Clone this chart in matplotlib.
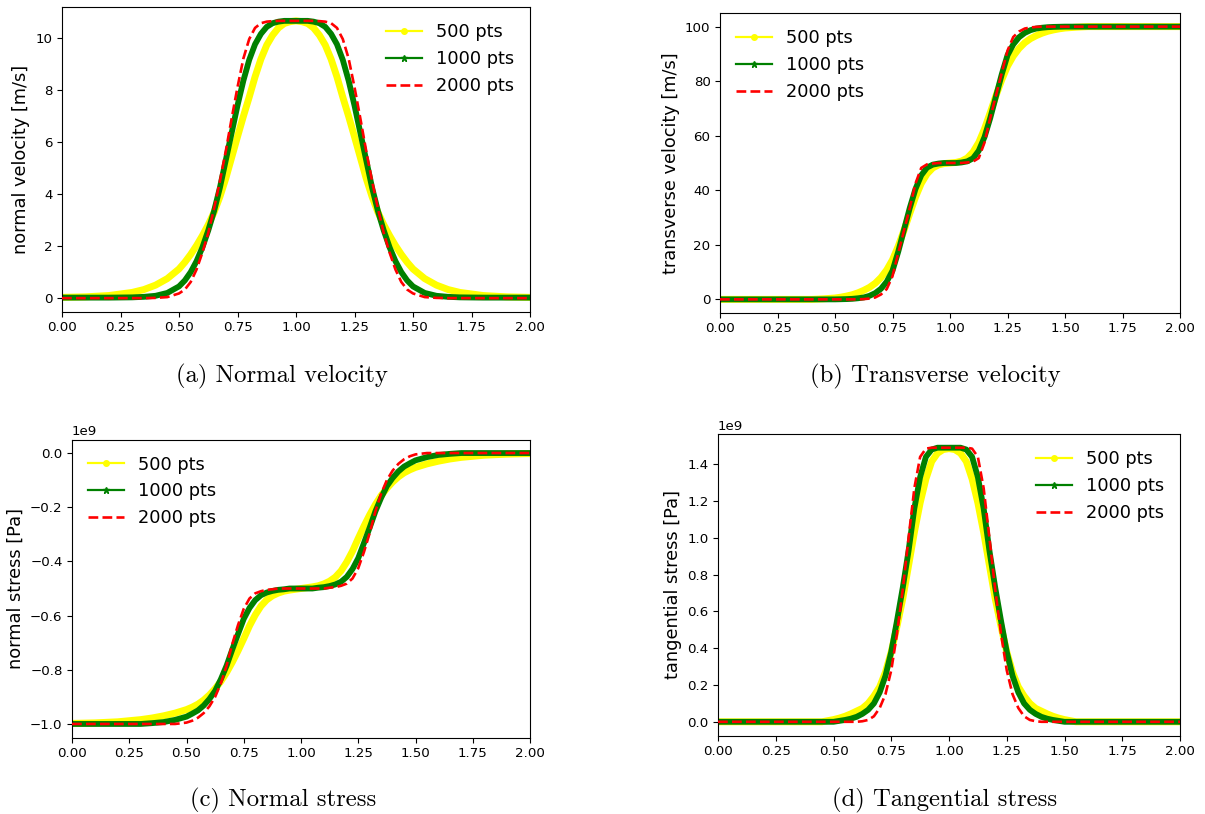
import numpy as np
import matplotlib
matplotlib.use("Agg")
import matplotlib.pyplot as plt
from matplotlib.lines import Line2D

# sample positions along the domain
x = [0.0, 0.1, 0.2, 0.3, 0.35, 0.4, 0.45, 0.5, 0.525, 0.55, 0.575, 0.6, 0.625,
     0.65, 0.675, 0.7, 0.725, 0.75, 0.775, 0.8, 0.825, 0.85, 0.875, 0.9, 0.925,
     0.95, 0.975, 1.0,
     1.025, 1.05, 1.075, 1.1, 1.125, 1.15, 1.175, 1.2, 1.225, 1.25, 1.275, 1.3,
     1.325, 1.35, 1.375, 1.4, 1.425, 1.45, 1.475, 1.5, 1.55, 1.6, 1.65, 1.7,
     1.8, 1.9, 2.0]

# (a) normal velocity [m/s]
vn_500 = [0.03, 0.05, 0.1, 0.22, 0.33, 0.5, 0.75, 1.12, 1.38, 1.68, 2.02, 2.4,
          2.82, 3.3, 3.9, 4.6, 5.4, 6.2, 6.98, 7.72, 8.5, 9.18, 9.72, 10.1,
          10.38, 10.55, 10.62, 10.65,
          10.62, 10.55, 10.38, 10.1, 9.72, 9.18, 8.5, 7.72, 6.98, 6.2, 5.4, 4.6,
          3.9, 3.3, 2.82, 2.4, 2.02, 1.68, 1.38, 1.12, 0.75, 0.5, 0.33, 0.22,
          0.1, 0.05, 0.03]
vn_1000 = [0.02, 0.02, 0.02, 0.03, 0.05, 0.09, 0.2, 0.45, 0.68, 1.0, 1.42, 1.95,
           2.6, 3.35, 4.25, 5.3, 6.35, 7.4, 8.35, 9.15, 9.75, 10.15, 10.42,
           10.56, 10.62, 10.65, 10.65, 10.65,
           10.65, 10.65, 10.62, 10.56, 10.42, 10.15, 9.75, 9.15, 8.35, 7.4,
           6.35, 5.3, 4.25, 3.35, 2.6, 1.95, 1.42, 1.0, 0.68, 0.45, 0.2, 0.09,
           0.05, 0.03, 0.02, 0.02, 0.02]
vn_2000 = [0.0, 0.0, 0.0, 0.0, 0.0, 0.01, 0.04, 0.18, 0.33, 0.62, 1.1, 1.75,
           2.5, 3.45, 4.5, 5.65, 6.9, 8.1, 9.2, 9.95, 10.38, 10.56, 10.62,
           10.64, 10.65, 10.65, 10.65, 10.65,
           10.65, 10.65, 10.65, 10.64, 10.62, 10.56, 10.38, 9.95, 9.2, 8.1,
           6.9, 5.65, 4.5, 3.45, 2.5, 1.75, 1.1, 0.62, 0.33, 0.18, 0.04, 0.01,
           0.0, 0.0, 0.0, 0.0, 0.0]

# (b) transverse velocity [m/s]
vt_500 = [0.0, 0.0, 0.0, 0.0, 0.0, 0.0, 0.2, 0.5, 0.8, 1.2, 1.7, 2.4, 3.3, 4.4,
          5.9, 8.0, 10.8, 14.5, 19.5, 25.3, 31.5, 37.5, 42.5, 46.0, 48.2, 49.3,
          49.8, 50.0,
          50.2, 50.7, 51.8, 54.0, 57.5, 62.5, 68.5, 74.7, 80.5, 85.5, 89.2,
          92.0, 94.1, 95.6, 96.7, 97.6, 98.3, 98.8, 99.2, 99.5, 99.8, 100.0,
          100.0, 100.0, 100.0, 100.0, 100.0]
vt_1000 = [0.0, 0.0, 0.0, 0.0, 0.0, 0.0, 0.0, 0.0, 0.05, 0.1, 0.2, 0.4, 0.7,
           1.3, 2.3, 3.9, 6.5, 10.5, 17.5, 25.5, 33.5, 40.5, 45.5, 48.3, 49.4,
           49.8, 50.0, 50.0,
           50.0, 50.2, 50.6, 51.7, 54.5, 59.5, 66.5, 74.5, 82.5, 89.5, 93.5,
           96.1, 97.7, 98.7, 99.3, 99.6, 99.8, 99.9, 99.95, 100.0, 100.0,
           100.0, 100.0, 100.0, 100.0, 100.0, 100.0]
vt_2000 = [0.0, 0.0, 0.0, 0.0, 0.0, 0.0, 0.0, 0.0, 0.0, 0.0, 0.0, 0.0, 0.1, 0.3,
           0.7, 1.8, 3.8, 8.5, 17.0, 25.2, 33.5, 42.5, 48.2, 49.5, 49.8, 50.0,
           50.0, 50.0,
           50.0, 50.0, 50.2, 50.5, 51.8, 57.5, 66.5, 74.8, 83.0, 91.2, 96.2,
           98.2, 99.3, 99.7, 99.9, 100.0, 100.0, 100.0, 100.0, 100.0, 100.0,
           100.0, 100.0, 100.0, 100.0, 100.0, 100.0]

# (c) normal stress [GPa]
sn_500 = [-0.998, -0.996, -0.992, -0.984, -0.978, -0.97, -0.96, -0.947, -0.938,
          -0.927, -0.912, -0.893, -0.87, -0.843, -0.81, -0.772, -0.73, -0.685,
          -0.638, -0.598, -0.565, -0.542, -0.527, -0.517, -0.51, -0.506, -0.503,
          -0.5,
          -0.497, -0.494, -0.49, -0.483, -0.473, -0.458, -0.435, -0.402, -0.362,
          -0.315, -0.27, -0.228, -0.19, -0.157, -0.13, -0.107, -0.088, -0.073,
          -0.062, -0.053, -0.04, -0.03, -0.022, -0.016, -0.008, -0.004, -0.002]
sn_1000 = [-1.0, -1.0, -1.0, -1.0, -0.997, -0.993, -0.985, -0.973, -0.962,
           -0.95, -0.932, -0.908, -0.878, -0.835, -0.785, -0.725, -0.668,
           -0.612, -0.572, -0.543, -0.525, -0.515, -0.509, -0.505, -0.503,
           -0.5, -0.5, -0.5,
           -0.5, -0.5, -0.497, -0.495, -0.491, -0.485, -0.475, -0.457, -0.428,
           -0.388, -0.332, -0.275, -0.215, -0.165, -0.122, -0.092, -0.068,
           -0.05, -0.038, -0.027, -0.015, -0.007, -0.003, 0.0, 0.0, 0.0, 0.0]
sn_2000 = [-1.0, -1.0, -1.0, -1.0, -1.0, -1.0, -1.0, -0.995, -0.988, -0.977,
           -0.96, -0.935, -0.9, -0.85, -0.785, -0.705, -0.635, -0.575, -0.537,
           -0.518, -0.51, -0.505, -0.503, -0.5, -0.5, -0.5, -0.5, -0.5,
           -0.5, -0.5, -0.5, -0.5, -0.497, -0.495, -0.49, -0.482, -0.463,
           -0.425, -0.365, -0.295, -0.215, -0.15, -0.1, -0.065, -0.04, -0.023,
           -0.012, -0.005, 0.0, 0.0, 0.0, 0.0, 0.0, 0.0, 0.0]

# (d) tangential stress [GPa]
st_500 = [0.0, 0.0, 0.0, 0.0, 0.0, 0.0, 0.0, 0.012, 0.02, 0.03, 0.043, 0.058,
          0.073, 0.1, 0.14, 0.19, 0.27, 0.38, 0.52, 0.67, 0.85, 1.03, 1.19,
          1.32, 1.415, 1.46, 1.48, 1.485,
          1.48, 1.46, 1.415, 1.32, 1.19, 1.03, 0.85, 0.67, 0.52, 0.38, 0.27,
          0.19, 0.14, 0.1, 0.073, 0.058, 0.043, 0.03, 0.02, 0.012, 0.0, 0.0,
          0.0, 0.0, 0.0, 0.0, 0.0]
st_1000 = [0.0, 0.0, 0.0, 0.0, 0.0, 0.0, 0.0, 0.0, 0.005, 0.01, 0.017, 0.027,
           0.043, 0.065, 0.1, 0.16, 0.25, 0.38, 0.55, 0.73, 0.93, 1.16, 1.33,
           1.44, 1.48, 1.49, 1.49, 1.49,
           1.49, 1.49, 1.48, 1.44, 1.33, 1.16, 0.93, 0.73, 0.55, 0.38, 0.25,
           0.16, 0.1, 0.065, 0.043, 0.027, 0.017, 0.01, 0.005, 0.0, 0.0, 0.0,
           0.0, 0.0, 0.0, 0.0, 0.0]
st_2000 = [0.0, 0.0, 0.0, 0.0, 0.0, 0.0, 0.0, 0.0, 0.0, 0.0, 0.0, 0.0, 0.003,
           0.01, 0.03, 0.075, 0.15, 0.28, 0.48, 0.72, 1.0, 1.27, 1.44, 1.485,
           1.49, 1.49, 1.49, 1.49,
           1.49, 1.49, 1.49, 1.485, 1.44, 1.27, 1.0, 0.72, 0.48, 0.28, 0.15,
           0.075, 0.03, 0.01, 0.003, 0.0, 0.0, 0.0, 0.0, 0.0, 0.0, 0.0, 0.0,
           0.0, 0.0, 0.0, 0.0]

labels = ["500 pts", "1000 pts", "2000 pts"]
captions = ["(a) Normal velocity", "(b) Transverse velocity",
            "(c) Normal stress", "(d) Tangential stress"]
ylabels = ["normal velocity [m/s]", "transverse velocity [m/s]",
           "normal stress [Pa]", "tangential stress [Pa]"]

plt.rcParams["font.family"] = ["DejaVu Sans"]

fig = plt.figure(figsize=(12.05, 8.14), dpi=100)
W, H = 1205.0, 814.0


def make_axes(left, top, right, bottom):
    return fig.add_axes([left / W, 1 - bottom / H, (right - left) / W,
                         (bottom - top) / H])


panels = [
    (make_axes(62, 7, 530, 312), vn_500, vn_1000, vn_2000, 1.0, "upper right"),
    (make_axes(720, 13, 1180, 313), vt_500, vt_1000, vt_2000, 1.0, "upper left"),
    (make_axes(72, 439.5, 530, 737.5), sn_500, sn_1000, sn_2000, 1e9, "upper left"),
    (make_axes(718, 434, 1180, 735.5), st_500, st_1000, st_2000, 1e9, "upper right"),
]

handles = [
    Line2D([], [], color="yellow", lw=1.6, marker=".", ms=8),
    Line2D([], [], color="green", lw=1.6, marker="*", ms=5),
    Line2D([], [], color="red", lw=1.9, ls="--"),
]

for i, (ax, y500, y1000, y2000, scale, loc) in enumerate(panels):
    ax.plot(x, np.asarray(y500) * scale, color="yellow", lw=5.0,
            solid_joinstyle="round", zorder=1)
    ax.plot(x, np.asarray(y1000) * scale, color="green", lw=4.2,
            solid_joinstyle="round", zorder=2)
    ax.plot(x, np.asarray(y2000) * scale, color="red", lw=1.9, ls="--",
            zorder=3)
    ax.set_xlim(0, 2)
    ax.set_xticks(np.arange(0, 2.01, 0.25))
    ax.tick_params(labelsize=9.6, length=3.3, width=0.8)
    ax.yaxis.get_offset_text().set_fontsize(9.6)
    ax.set_ylabel(ylabels[i], fontsize=12.8)
    ax.legend(handles, labels, loc=loc, frameon=False, fontsize=12.8)

fig.text(282 / W, 1 - 376 / H, captions[0], ha="center", va="center",
         family="cmr10", fontsize=17.8)
fig.text(935 / W, 1 - 376 / H, captions[1], ha="center", va="center",
         family="cmr10", fontsize=17.8)
fig.text(283 / W, 1 - 800 / H, captions[2], ha="center", va="center",
         family="cmr10", fontsize=17.8)
fig.text(945 / W, 1 - 800 / H, captions[3], ha="center", va="center",
         family="cmr10", fontsize=17.8)

fig.savefig("out.png", dpi=100)
